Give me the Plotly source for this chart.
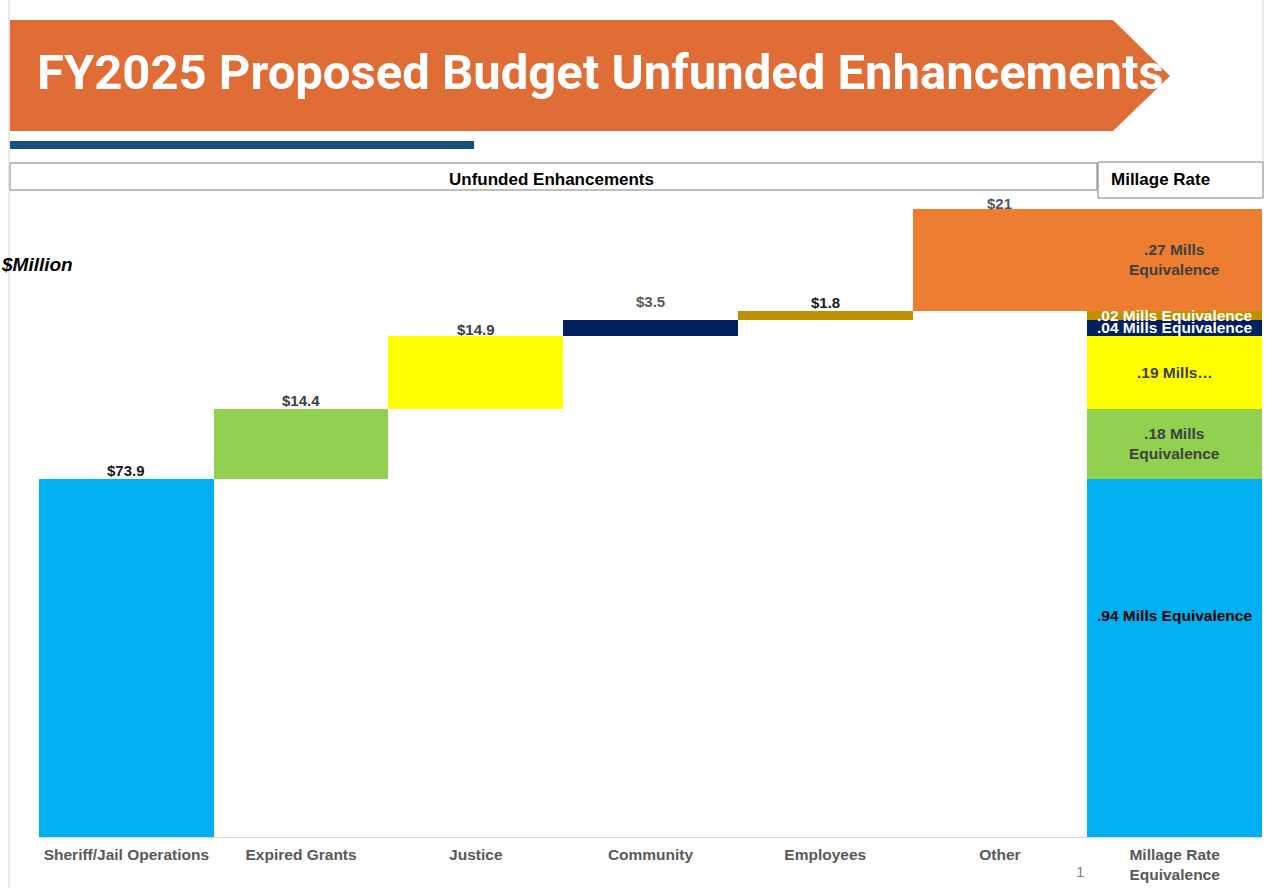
import plotly.graph_objects as go

# ---------------- data ----------------
categories = ["Sheriff/Jail Operations", "Expired Grants", "Justice", "Community", "Employees", "Other"]
values = [73.9, 14.4, 14.9, 3.5, 1.8, 21]
value_labels = ["$73.9", "$14.4", "$14.9", "$3.5", "$1.8", "$21"]
millage_category = "Millage Rate<br>Equivalence"
millage_labels = [".94 Mills Equivalence", ".18 Mills<br>Equivalence", ".19 Mills…",
                  ".04 Mills Equivalence", ".02 Mills Equivalence", ".27 Mills<br>Equivalence"]

# ---------------- styles ----------------
bar_colors = ["#00B0F0", "#92D050", "#FFFF00", "#002060", "#BF9000", "#ED7D31"]
millage_text_colors = ["#000000", "#404040", "#404040", "#FFFFFF", "#FFFFFF", "#404040"]
value_label_colors = ["#1A1A1A", "#404040", "#404040", "#595959", "#1A1A1A", "#595959"]
value_label_shift = [0, 0, -2, 10, 0, -3]
millage_label_shift = [42, 0, 0, 0, 0, 0]

# ---------------- layout geometry ----------------
FIG_W, FIG_H = 1267, 888
L, R, T, B = 39, 5, 190, 51
PW, PH = FIG_W - L - R, FIG_H - T - B
PX_PER_UNIT = 4.85
YMAX = PH / PX_PER_UNIT


def px(x):
    return (x - L) / PW


def py(y):
    return (FIG_H - B - y) / PH


FONT = "Liberation Sans, Arial, sans-serif"

fig = go.Figure()

bases = []
cum = 0
for v in values:
    bases.append(cum)
    cum += v

all_x = categories + [millage_category]

for cat, v, b, c in zip(categories, values, bases, bar_colors):
    fig.add_trace(go.Bar(x=[cat, millage_category], y=[v, v], base=[b, b],
                         marker=dict(color=c, line=dict(width=0)), width=1,
                         showlegend=False, hoverinfo="skip"))

annotations = []
for cat, v, b, lab, col, sh in zip(categories, values, bases, value_labels,
                                   value_label_colors, value_label_shift):
    annotations.append(dict(x=cat, y=b + v, xref="x", yref="y", text="<b>%s</b>" % lab,
                            showarrow=False, xanchor="center", yanchor="bottom", yshift=-2 + sh,
                            font=dict(family=FONT, size=15, color=col)))
for v, b, lab, col, sh in zip(values, bases, millage_labels, millage_text_colors,
                              millage_label_shift):
    annotations.append(dict(x=millage_category, y=b + v / 2, xref="x", yref="y",
                            text="<b>%s</b>" % lab, showarrow=False, xanchor="center",
                            yanchor="middle", yshift=sh,
                            font=dict(family=FONT, size=15.5, color=col)))

# title
annotations.append(dict(x=px(35), y=py(73), xref="paper", yref="paper", xanchor="left",
                        yanchor="middle", showarrow=False,
                        text="<b>FY2025 Proposed Budget Unfunded Enhancements</b>",
                        font=dict(family="Roboto", size=49, color="#FFFFFF")))
# header boxes text
annotations.append(dict(x=px(551), y=py(179), xref="paper", yref="paper", showarrow=False,
                        xanchor="center", yanchor="middle",
                        text="<b>Unfunded Enhancements</b>",
                        font=dict(family=FONT, size=17, color="#000000")))
annotations.append(dict(x=px(1109), y=py(179), xref="paper", yref="paper", xanchor="left",
                        yanchor="middle", showarrow=False, text="<b>Millage Rate</b>",
                        font=dict(family=FONT, size=17, color="#000000")))
# unit label
annotations.append(dict(x=px(75), y=py(264), xref="paper", yref="paper", xanchor="right",
                        yanchor="middle", showarrow=False, text="<b><i>$Million</i></b>",
                        font=dict(family=FONT, size=19, color="#000000")))
# page number
annotations.append(dict(x=px(1080), y=py(871), xref="paper", yref="paper", showarrow=False,
                        xanchor="center", yanchor="middle",
                        text="1", font=dict(family=FONT, size=15, color="#7F7F7F")))

shapes = [
    dict(type="path", xref="paper", yref="paper",
         path="M %f,%f L %f,%f L %f,%f L %f,%f L %f,%f Z" % (
             px(10), py(20), px(1113), py(20), px(1170), py(76), px(1113), py(131), px(10), py(131)),
         fillcolor="#E06D36", line=dict(width=0), layer="below"),
    dict(type="rect", xref="paper", yref="paper", x0=px(10), x1=px(474), y0=py(141), y1=py(149),
         fillcolor="#174E7A", line=dict(width=0), layer="below"),
    dict(type="rect", xref="paper", yref="paper", x0=px(10), x1=px(1097), y0=py(163), y1=py(190),
         fillcolor="rgba(0,0,0,0)", line=dict(color="#7F7F7F", width=1), layer="below"),
    dict(type="rect", xref="paper", yref="paper", x0=px(1098), x1=px(1263), y0=py(162), y1=py(198),
         fillcolor="rgba(0,0,0,0)", line=dict(color="#7F7F7F", width=1), layer="below"),
    dict(type="line", xref="paper", yref="paper", x0=px(9), x1=px(9), y0=py(0), y1=py(888),
         line=dict(color="#D0D0D0", width=1), layer="below"),
    dict(type="line", xref="paper", yref="paper", x0=px(1263), x1=px(1263), y0=py(0), y1=py(162),
         line=dict(color="#D0D0D0", width=1), layer="below"),
]

fig.update_layout(
    width=FIG_W, height=FIG_H,
    margin=dict(l=L, r=R, t=T, b=B),
    paper_bgcolor="#FFFFFF", plot_bgcolor="#FFFFFF",
    barmode="overlay", bargap=0,
    showlegend=False,
    annotations=annotations, shapes=shapes,
    xaxis=dict(categoryorder="array", categoryarray=all_x, showgrid=False, zeroline=False,
               showline=True, linecolor="#D9D9D9", linewidth=1, ticks="",
               ticklabelstandoff=3,
               tickfont=dict(family=FONT, size=15.5, color="#595959"), tickangle=0,
               tickvals=all_x, ticktext=["<b>%s</b>" % c for c in all_x]),
    yaxis=dict(range=[0, YMAX], visible=False, showgrid=False, zeroline=False),
)

fig.write_html("out.html")
